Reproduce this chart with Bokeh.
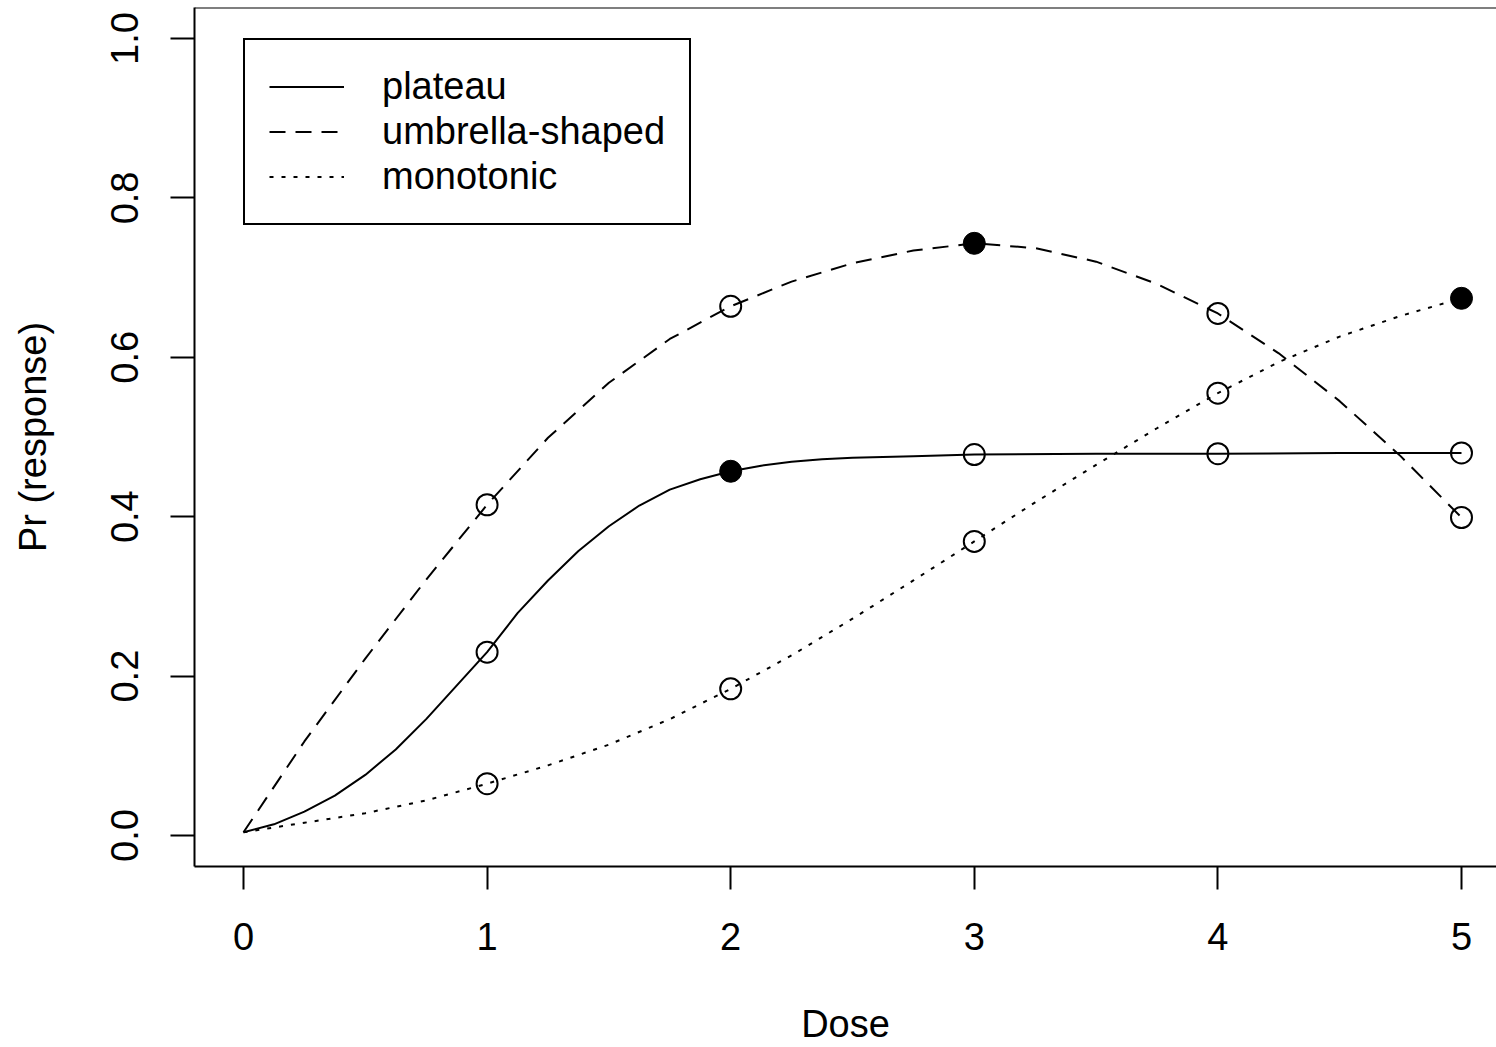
from bokeh.plotting import figure
from bokeh.models import (Range1d, FixedTicker, Span, Legend, LegendItem,
                          PrintfTickFormatter)
from bokeh.embed import file_html
from bokeh.resources import INLINE

# ---- data ----
PLATEAU_DOSE = [0, 0.125, 0.25, 0.375, 0.5, 0.625, 0.75, 0.875, 1, 1.125,
                1.25, 1.375, 1.5, 1.625, 1.75, 1.875, 2, 2.125, 2.25, 2.375,
                2.5, 2.75, 3, 3.5, 4, 4.5, 5]
PLATEAU_CURVE = [0.004, 0.014, 0.030, 0.050, 0.076, 0.108, 0.146, 0.188,
                 0.230, 0.279, 0.320, 0.357, 0.388, 0.414, 0.434, 0.447,
                 0.457, 0.464, 0.469, 0.472, 0.474, 0.476, 0.478, 0.479,
                 0.479, 0.480, 0.480]

CURVE_DOSE = [0, 0.25, 0.5, 0.75, 1, 1.25, 1.5, 1.75, 2, 2.25, 2.5, 2.75,
              3, 3.25, 3.5, 3.75, 4, 4.25, 4.5, 4.75, 5]
UMBRELLA_CURVE = [0.004, 0.118, 0.222, 0.321, 0.415, 0.499, 0.568, 0.623,
                  0.664, 0.695, 0.718, 0.734, 0.743, 0.737, 0.720, 0.692,
                  0.655, 0.605, 0.545, 0.476, 0.399]
MONOTONIC_CURVE = [0.004, 0.016, 0.028, 0.044, 0.065, 0.088, 0.114, 0.146,
                   0.184, 0.226, 0.272, 0.320, 0.369, 0.418, 0.465, 0.511,
                   0.555, 0.594, 0.626, 0.652, 0.674]

DOSES = [1, 2, 3, 4, 5]
PLATEAU_PTS = [0.230, 0.457, 0.478, 0.479, 0.480]
UMBRELLA_PTS = [0.415, 0.664, 0.743, 0.655, 0.399]
MONOTONIC_PTS = [0.065, 0.184, 0.369, 0.555, 0.674]
# index (in DOSES) of the filled marker for each scenario
PLATEAU_BEST = 1
UMBRELLA_BEST = 2
MONOTONIC_BEST = 4

SERIES_NAMES = ["plateau", "umbrella-shaped", "monotonic"]
X_TICKS = [0, 1, 2, 3, 4, 5]
Y_TICKS = [0.0, 0.2, 0.4, 0.6, 0.8, 1.0]
X_TITLE = "Dose"
Y_TITLE = "Pr (response)"

FONT = "Liberation Sans"
FS = "38px"

X_START, X_END = -0.2011, 5.1437
Y_START, Y_END = -0.0389, 1.0389

p = figure(width=1496, height=1047, output_backend="svg", toolbar_location=None,
           x_range=Range1d(X_START, X_END), y_range=Range1d(Y_START, Y_END),
           min_border_left=194, min_border_right=0, min_border_top=7,
           min_border_bottom=181)
p.outline_line_color = None
p.xgrid.visible = False
p.ygrid.visible = False
p.background_fill_color = "white"
p.border_fill_color = "white"

# top border of the box (the right side is cut off in the reference)
p.add_layout(Span(location=Y_END, dimension="width", line_color="black",
                  line_width=2))

for ax in (p.xaxis[0], p.yaxis[0]):
    ax.axis_line_width = 2
    ax.axis_line_color = "black"
    ax.major_tick_line_width = 2
    ax.major_tick_line_color = "black"
    ax.minor_tick_line_color = None
    ax.major_tick_in = 0
    ax.major_label_text_font = FONT
    ax.major_label_text_font_size = FS
    ax.major_label_text_color = "black"
    ax.axis_label_text_font = FONT
    ax.axis_label_text_font_size = FS
    ax.axis_label_text_font_style = "normal"
    ax.axis_label_text_color = "black"

p.xaxis.ticker = FixedTicker(ticks=X_TICKS)
p.xaxis.major_tick_out = 23
p.xaxis.major_label_standoff = 33
p.xaxis.axis_label = X_TITLE
p.xaxis.axis_label_standoff = 50

p.yaxis.ticker = FixedTicker(ticks=Y_TICKS)
p.yaxis.formatter = PrintfTickFormatter(format="%.1f")
p.yaxis.major_tick_out = 24
p.yaxis.major_label_orientation = "vertical"
p.yaxis.major_label_standoff = 32
p.yaxis.axis_label = Y_TITLE
p.yaxis.axis_label_standoff = 55

dashes = ["solid", "16 10", "4 8"]
curves = [(PLATEAU_DOSE, PLATEAU_CURVE), (CURVE_DOSE, UMBRELLA_CURVE),
          (CURVE_DOSE, MONOTONIC_CURVE)]
pts = [PLATEAU_PTS, UMBRELLA_PTS, MONOTONIC_PTS]
best = [PLATEAU_BEST, UMBRELLA_BEST, MONOTONIC_BEST]

items = []
for name, (cx, cy), dash, py, b in zip(SERIES_NAMES, curves, dashes, pts, best):
    r = p.line(cx, cy, line_color="black", line_width=2, line_dash=dash,
               line_join="round")
    items.append(LegendItem(label=name, renderers=[r]))
    ox = [d for i, d in enumerate(DOSES) if i != b]
    oy = [v for i, v in enumerate(py) if i != b]
    p.scatter(ox, oy, marker="circle", size=21, fill_color=None,
              line_color="black", line_width=2)
    p.scatter([DOSES[b]], [py[b]], marker="circle", size=22,
              fill_color="black", line_color="black", line_width=1)

legend = Legend(items=items, location=(49, 641))
legend.label_text_font = FONT
legend.label_text_font_size = FS
legend.label_text_color = "black"
legend.glyph_width = 75
legend.glyph_height = 45
legend.label_height = 45
legend.label_standoff = 38
legend.spacing = 0
legend.padding = 24
legend.margin = 0
legend.border_line_color = "black"
legend.border_line_alpha = 1.0
legend.border_line_width = 2
legend.background_fill_color = "white"
legend.background_fill_alpha = 1.0
p.add_layout(legend, "center")

open("out.html", "w").write(file_html(p, INLINE))
